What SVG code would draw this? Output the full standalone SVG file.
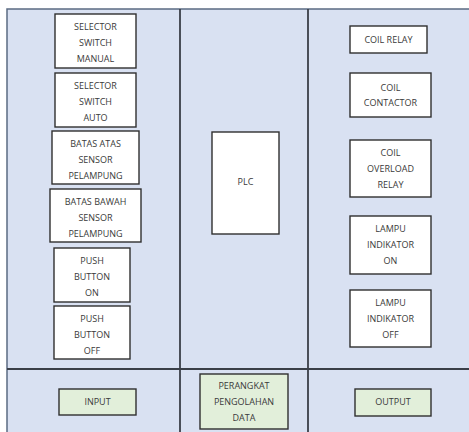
<svg xmlns="http://www.w3.org/2000/svg" width="469" height="432" viewBox="0 0 469 432">
<style>
.bg{fill:#d9e1f2;stroke:#5b6b82;stroke-width:1.5}
.div{stroke:#3a3f48;stroke-width:1.8;fill:none}
.box{fill:#ffffff;stroke:#2f2f2f;stroke-width:1.4}
.gbox{fill:#e2efda;stroke:#2f2f2f;stroke-width:1.4}
text{font-family:"Open Sans","Liberation Sans",sans-serif;font-size:9px;fill:#3a3a3a;text-anchor:middle}
</style>
<rect x="0" y="0" width="469" height="432" fill="#ffffff"/>
<rect class="bg" x="7" y="9" width="470" height="430"/>
<g id="connectors">
<line class="div" x1="180" y1="9" x2="180" y2="432"/>
<line class="div" x1="308" y1="9" x2="308" y2="432"/>
<line class="div" x1="7" y1="369" x2="469" y2="369"/>
</g>
<g id="selector-manual"><rect class="box" x="55" y="14" width="81" height="54"/><text x="95.5" y="30">SELECTOR</text><text x="95.5" y="46">SWITCH</text><text x="95.5" y="62">MANUAL</text></g>
<g id="selector-auto"><rect class="box" x="55" y="73" width="81" height="54"/><text x="95.5" y="89">SELECTOR</text><text x="95.5" y="105">SWITCH</text><text x="95.5" y="121">AUTO</text></g>
<g id="batas-atas"><rect class="box" x="52" y="131" width="87" height="53"/><text x="95.5" y="147">BATAS ATAS</text><text x="95.5" y="163">SENSOR</text><text x="95.5" y="179">PELAMPUNG</text></g>
<g id="batas-bawah"><rect class="box" x="50" y="189" width="91" height="53"/><text x="95.5" y="205">BATAS BAWAH</text><text x="95.5" y="221">SENSOR</text><text x="95.5" y="237">PELAMPUNG</text></g>
<g id="push-on"><rect class="box" x="54" y="248" width="76" height="54"/><text x="92" y="264">PUSH</text><text x="92" y="280">BUTTON</text><text x="92" y="296">ON</text></g>
<g id="push-off"><rect class="box" x="54" y="306" width="76" height="53"/><text x="92" y="322">PUSH</text><text x="92" y="338">BUTTON</text><text x="92" y="354">OFF</text></g>
<g id="input"><rect class="gbox" x="59" y="389" width="77" height="26"/><text x="97.5" y="405">INPUT</text></g>
<g id="plc"><rect class="box" x="212" y="132" width="67" height="102"/><text x="245.5" y="185">PLC</text></g>
<g id="perangkat"><rect class="gbox" x="200" y="374" width="88" height="55"/><text x="244" y="389">PERANGKAT</text><text x="244" y="405">PENGOLAHAN</text><text x="244" y="421">DATA</text></g>
<g id="coil-relay"><rect class="box" x="350" y="26" width="77" height="27"/><text x="388.5" y="43">COIL RELAY</text></g>
<g id="coil-contactor"><rect class="box" x="350" y="73" width="81" height="44"/><text x="390.5" y="91">COIL</text><text x="390.5" y="106">CONTACTOR</text></g>
<g id="coil-overload"><rect class="box" x="350" y="140" width="81" height="57"/><text x="390.5" y="156">COIL</text><text x="390.5" y="172">OVERLOAD</text><text x="390.5" y="188">RELAY</text></g>
<g id="lampu-on"><rect class="box" x="350" y="216" width="81" height="58"/><text x="390.5" y="232">LAMPU</text><text x="390.5" y="248">INDIKATOR</text><text x="390.5" y="264">ON</text></g>
<g id="lampu-off"><rect class="box" x="350" y="290" width="81" height="57"/><text x="390.5" y="306">LAMPU</text><text x="390.5" y="322">INDIKATOR</text><text x="390.5" y="338">OFF</text></g>
<g id="output"><rect class="gbox" x="355" y="389" width="76" height="27"/><text x="393" y="405">OUTPUT</text></g>
</svg>
